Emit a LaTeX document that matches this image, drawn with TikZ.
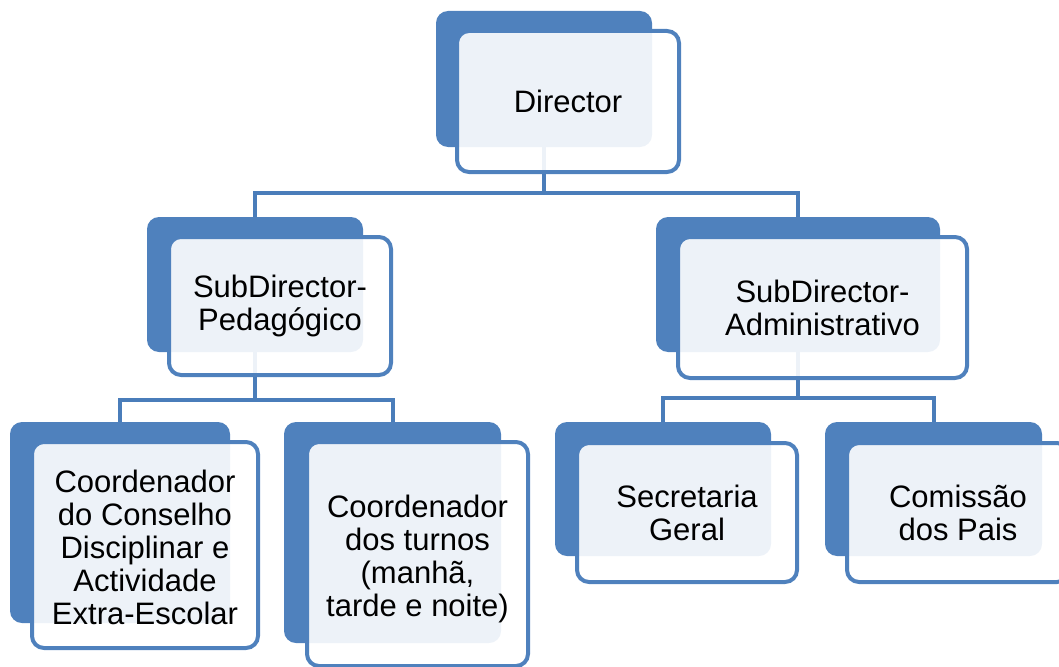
\documentclass[tikz,border=0pt]{standalone}
\usepackage{fontspec}
\setmainfont{Liberation Sans}
\definecolor{accent}{HTML}{4F81BD}
\definecolor{connc}{HTML}{4A7DBA}
\tikzset{
  backbox/.style={rectangle, rounded corners=12pt, fill=accent, inner sep=0pt},
  frontbox/.style={rectangle, rounded corners=12pt, draw=accent, line width=4pt,
    fill=white, fill opacity=0.9, text opacity=1, draw opacity=1, inner sep=0pt,
    align=center, font=\fontsize{31}{33}\selectfont, text=black},
  conn/.style={draw=connc, line width=4pt}
}
\begin{document}
\begin{tikzpicture}[x=1pt,y=-1pt]
\useasboundingbox (0,0) rectangle (1059,666);
% back boxes
\node[backbox, minimum width=216pt, minimum height=136pt] (dirB) at (544,79) {};
\node[backbox, minimum width=216pt, minimum height=135pt] (pedB) at (255,284.5) {};
\node[backbox, minimum width=284pt, minimum height=135pt] (admB) at (798,284.5) {};
\node[backbox, minimum width=220pt, minimum height=201pt] (caB) at (120,522.5) {};
\node[backbox, minimum width=217pt, minimum height=221pt] (cbB) at (392.5,532.5) {};
\node[backbox, minimum width=216pt, minimum height=134pt] (secB) at (663,489) {};
\node[backbox, minimum width=217pt, minimum height=134pt] (comB) at (933.5,489) {};
% connectors
\draw[conn] (dirB.south) -- ++(0,46) coordinate (bus1);
\draw[conn] (bus1) -| (pedB.north);
\draw[conn] (bus1) -| (admB.north);
\draw[conn] (pedB.south) -- ++(0,48) coordinate (bus2);
\draw[conn] (bus2) -| (caB.north);
\draw[conn] (bus2) -| (cbB.north);
\draw[conn] (admB.south) -- ++(0,46) coordinate (bus3);
\draw[conn] (bus3) -| (secB.north);
\draw[conn] (bus3) -| (comB.north);
% front boxes
\node[frontbox, minimum width=222pt, minimum height=141pt] (dir) at (568,101.5) {Director};
\node[frontbox, minimum width=222pt, minimum height=138pt] (ped) at (280,306) {SubDirector-\\Pedagógico};
\node[frontbox, minimum width=289pt, minimum height=141pt] (adm) at (822.5,307.5) {SubDirector-\\Administrativo};
\node[frontbox, minimum width=226pt, minimum height=206pt] (ca) at (145,545) {\rule{0pt}{27pt}Coordenador\\do Conselho\\Disciplinar e\\Actividade\\Extra-Escolar};
\node[frontbox, minimum width=221pt, minimum height=224pt] (cb) at (417.5,554) {\rule{0pt}{33pt}Coordenador\\dos turnos\\(manhã,\\tarde e noite)};
\node[frontbox, minimum width=220pt, minimum height=139pt] (sec) at (687,512.5) {Secretaria\\Geral};
\node[frontbox, minimum width=222pt, minimum height=139pt] (com) at (958,512.5) {Comissão\\dos Pais};
\end{tikzpicture}
\end{document}
